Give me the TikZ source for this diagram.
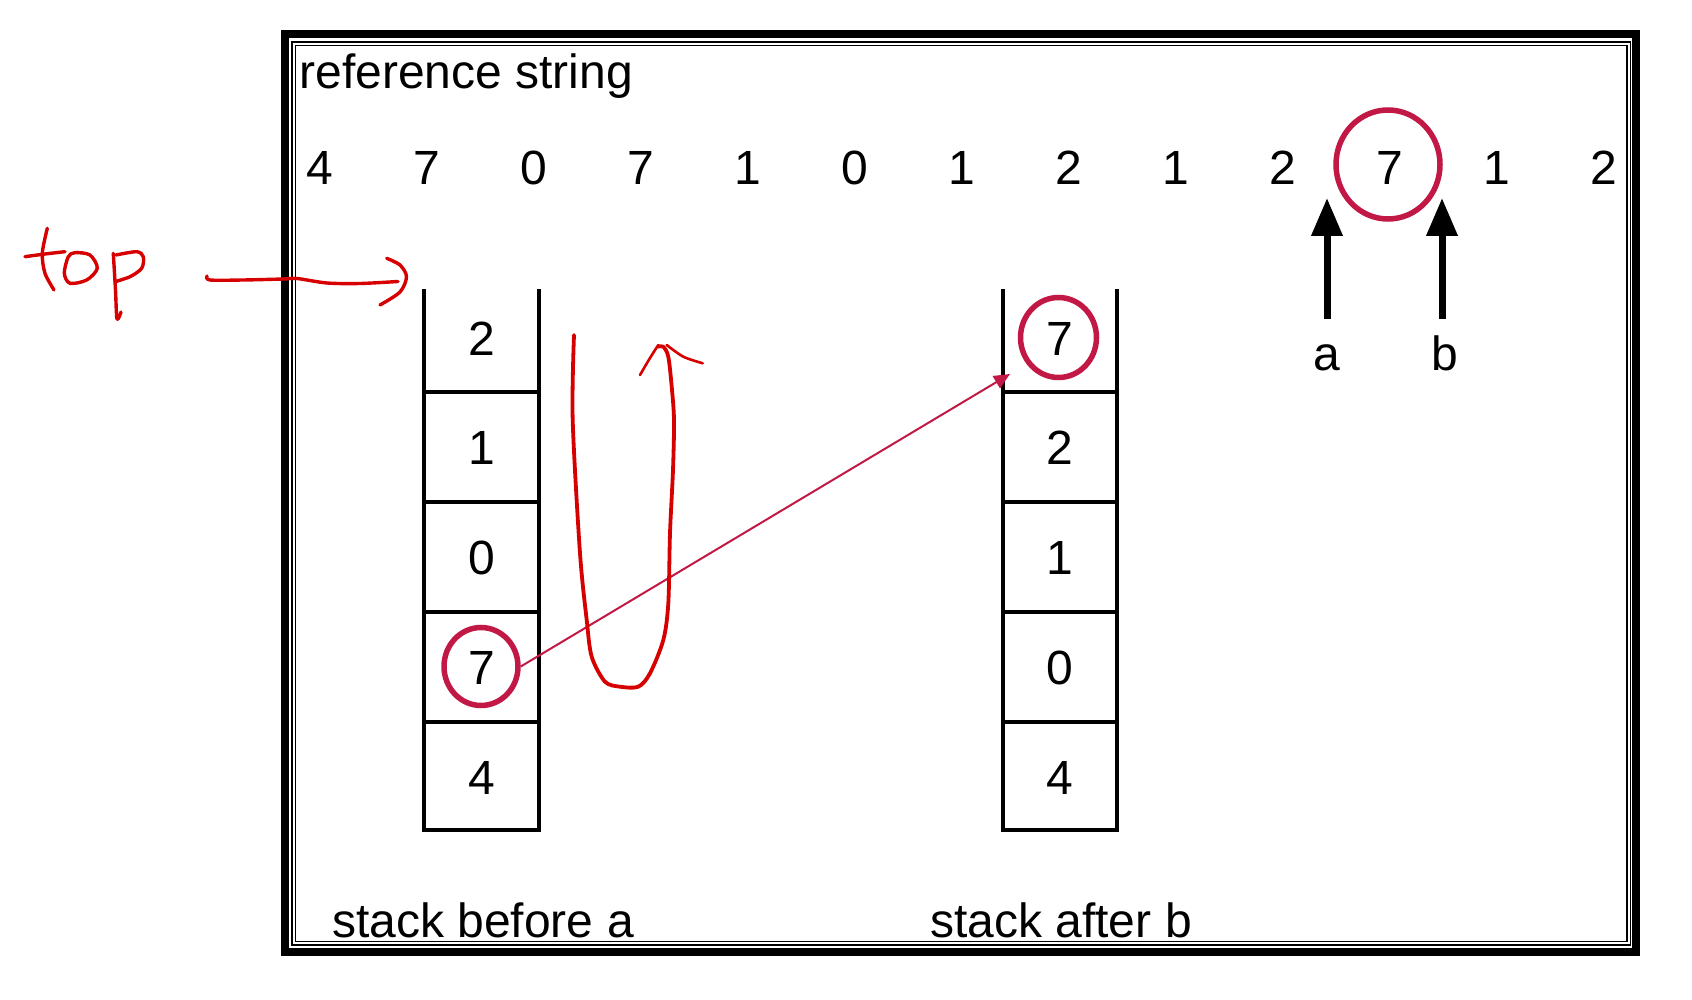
\documentclass[tikz,border=0pt]{standalone}
\usepackage{fontspec}
\setmainfont{Liberation Sans}
\usetikzlibrary{arrows.meta,shapes.geometric}
\definecolor{ringred}{RGB}{194,24,70}
\definecolor{handred}{RGB}{214,0,0}
\begin{document}
\begin{tikzpicture}[x=0.5pt,y=-0.5pt,
  every node/.style={inner sep=0pt, font=\fontsize{24}{28}\selectfont},
  txt/.style={anchor=base},
  dig/.style={anchor=center},
  frame/.style={line width=4pt},
  thinframe/.style={line width=0.9pt},
  cellline/.style={line width=2pt, line join=miter},
  ring/.style={draw=ringred, line width=2.75pt, ellipse},
  ptr/.style={line width=3.5pt, -{Triangle[length=19pt,width=15pt]}},
  link/.style={draw=ringred, line width=1pt, -{Triangle[length=8pt,width=7pt]}},
  hand/.style={draw=handred, line width=1.7pt, line cap=round, line join=round},
]
\useasboundingbox (0,0) rectangle (1692,1000);

% frame
\draw[frame] (284.5,34.5) rectangle (1636,951.5);
\draw[thinframe] (292,42) rectangle (1630.5,945);
\draw[thinframe] (295.5,45.5) rectangle (1627,941.5);

% title
\node[anchor=base west] (title) at (299,88.5) {reference string};

% reference string
\foreach \d [count=\i from 0] in {4,7,0,7,1,0,1,2,1,2,7,1,2}
  \node[dig] (r\i) at ({320+107*\i},167.5) {\d};
\node[ring, minimum width=52pt, minimum height=54.5pt] (topring) at (1388,164.5) {};

% pointers a and b
\coordinate (atail) at (1327,319);
\coordinate (atip) at (1327,198);
\coordinate (btail) at (1442,319);
\coordinate (btip) at (1442,198);
\draw[ptr] (atail) -- (atip);
\draw[ptr] (btail) -- (btip);
\node[txt] (la) at (1327,370) {a};
\node[txt] (lb) at (1445,370) {b};

% left stack
\draw[cellline] (424,289) -- (424,830) -- (539,830) -- (539,289);
\foreach \yy in {392,502,612,722} \draw[cellline] (424,\yy) -- (539,\yy);
\node[dig] (s1) at (481.5,339) {2};
\node[dig] (s2) at (481.5,447.5) {1};
\node[dig] (s3) at (481.5,558) {0};
\node[dig] (s4) at (481.5,668) {7};
\node[dig] (s5) at (481.5,777.5) {4};
\node[ring, minimum width=37pt, minimum height=39pt] (ringL) at (481,666.5) {};

% right stack
\draw[cellline] (1003,289) -- (1003,830) -- (1117,830) -- (1117,289);
\foreach \yy in {392,502,612,722} \draw[cellline] (1003,\yy) -- (1117,\yy);
\node[dig] (t1) at (1060,338.5) {7};
\node[dig] (t2) at (1060,447.5) {2};
\node[dig] (t3) at (1060,558) {1};
\node[dig] (t4) at (1060,668) {0};
\node[dig] (t5) at (1060,777.5) {4};
\node[ring, minimum width=38pt, minimum height=40pt] (ringR) at (1058.5,337.5) {};

% captions
\node[txt] (capL) at (483,937) {stack before a};
\node[txt] (capR) at (1061,937) {stack after b};

% move arrow
\coordinate (linkend) at (1010,374);
\draw[link] (ringL.east) -- (linkend);

% handwritten "top"
\draw[hand] plot[smooth] coordinates {(47.3,228.3) (42.3,253.3) (45,273.3) (54,290)};
\draw[hand] plot[smooth] coordinates {(25,256.7) (45,254) (65,251.7)};
\draw[hand] plot[smooth cycle] coordinates {(68.3,256.7) (64.3,273.3) (70,283.3) (86.7,280) (97.3,268.3) (90,255) (75,252.7)};
\draw[hand] plot[smooth] coordinates {(113.3,253.3) (115.5,290) (117,319) (121,312)};
\draw[hand] plot[smooth] coordinates {(116,255) (136.7,251.7) (143.3,256.7) (141.7,268.3) (130,276.7) (115,281.7)};

% handwritten arrow to top
\draw[hand] plot[smooth] coordinates {(207,276) (210,280) (243,280) (283,279) (297,278.5) (327,283) (360,283.5) (398,281.5)};
\draw[hand] plot[smooth] coordinates {(386.7,258.3) (400,265) (406.5,276.7) (400,292) (380,305)};

% handwritten loop
\draw[hand, line width=1.9pt] plot[smooth] coordinates {(574,335) (572.7,420) (580,553.3) (586.7,620) (591.7,656.7) (605,681.7) (620,686.7) (638.3,686.7) (650,673.3) (663.3,640) (668.3,603.3) (670,533) (673,470) (674,420) (671.7,386.7) (668.3,356.7) (663.3,346.7) (658.3,346.7)};
\draw[hand, line width=1.3pt] plot[smooth] coordinates {(640,375) (650,358) (658.3,345)};
\draw[hand, line width=1.3pt] plot[smooth] coordinates {(666.7,345) (683.3,356.7) (702.7,363.3)};
\end{tikzpicture}
\end{document}
